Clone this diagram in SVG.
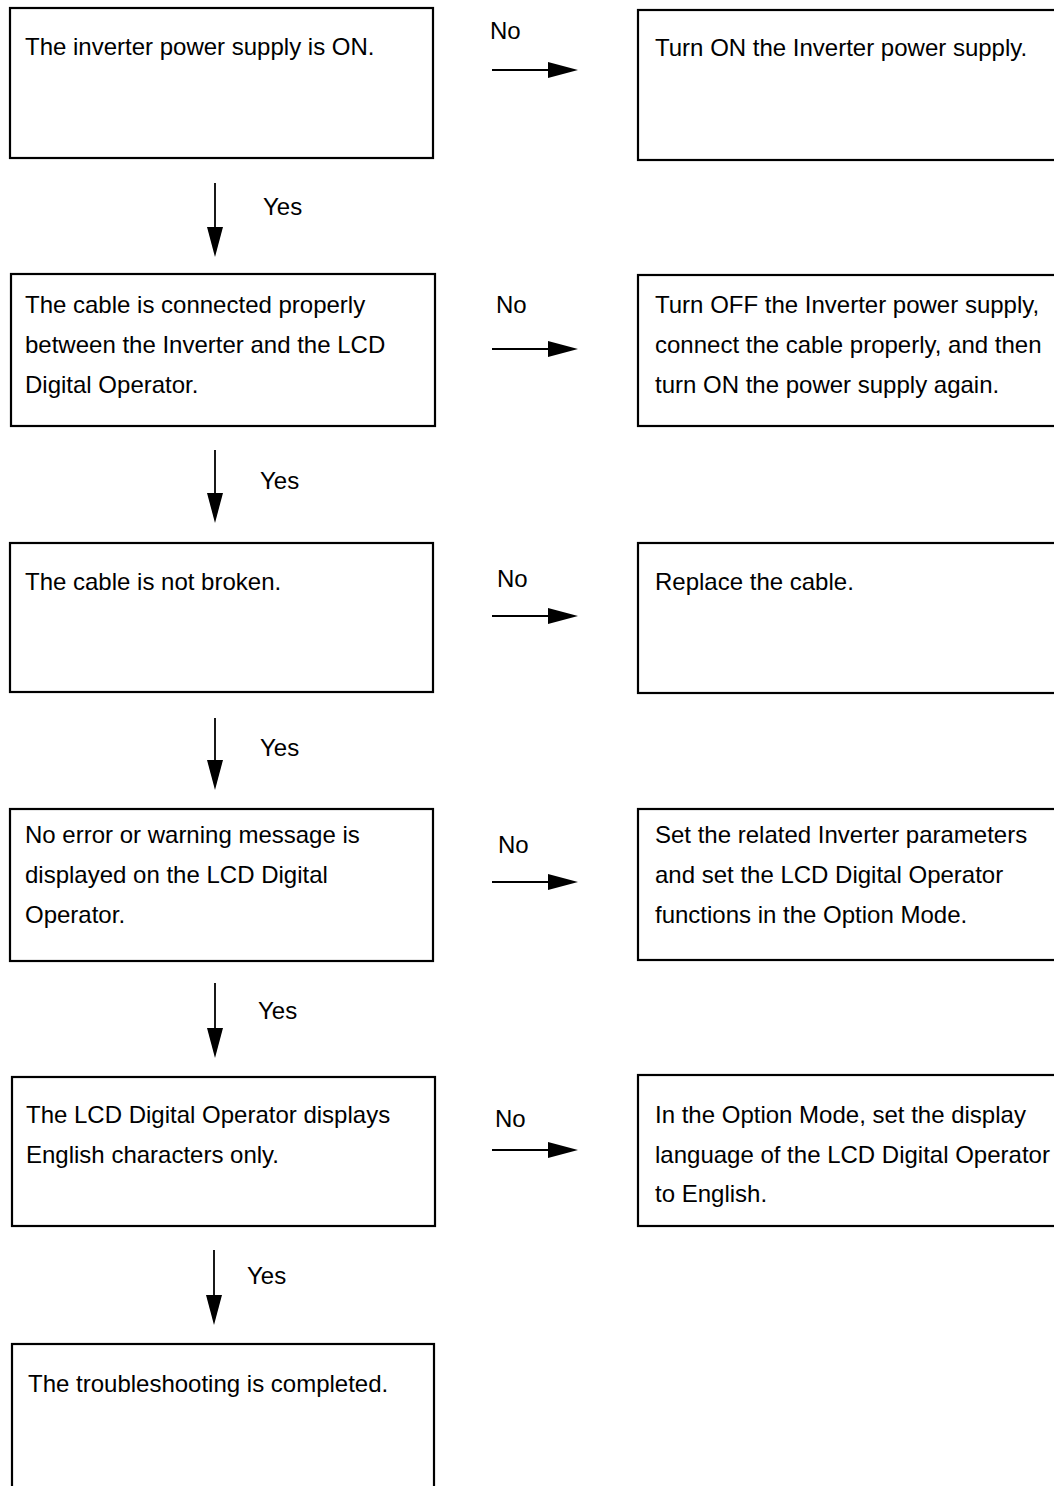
<svg xmlns="http://www.w3.org/2000/svg" width="1054" height="1486" viewBox="0 0 1054 1486">
<style>
.box{fill:#fff;stroke:#000;stroke-width:2.2}
.t{font-family:"Liberation Sans",Arial,sans-serif;font-size:24px;fill:#000}
.c{stroke:#000;stroke-width:1.8;fill:none}
.h{fill:#000;stroke:none}
</style>
<rect width="1054" height="1486" fill="#fff"/>
<g id="n1"><rect class="box" x="10" y="8" width="423" height="150"/><text class="t" x="25" y="55">The inverter power supply is ON.</text></g>
<g id="r1"><rect class="box" x="638" y="10" width="430" height="150"/><text class="t" x="655" y="56">Turn ON the Inverter power supply.</text></g>
<g id="n2"><rect class="box" x="11" y="274" width="424" height="152"/><text class="t" x="25" y="313">The cable is connected properly</text><text class="t" x="25" y="353">between the Inverter and the LCD</text><text class="t" x="25" y="393">Digital Operator.</text></g>
<g id="r2"><rect class="box" x="638" y="275" width="430" height="151"/><text class="t" x="655" y="313">Turn OFF the Inverter power supply,</text><text class="t" x="655" y="353">connect the cable properly, and then</text><text class="t" x="655" y="393">turn ON the power supply again.</text></g>
<g id="n3"><rect class="box" x="10" y="543" width="423" height="149"/><text class="t" x="25" y="590">The cable is not broken.</text></g>
<g id="r3"><rect class="box" x="638" y="543" width="430" height="150"/><text class="t" x="655" y="590">Replace the cable.</text></g>
<g id="n4"><rect class="box" x="10" y="809" width="423" height="152"/><text class="t" x="25" y="843">No error or warning message is</text><text class="t" x="25" y="883">displayed on the LCD Digital</text><text class="t" x="25" y="923">Operator.</text></g>
<g id="r4"><rect class="box" x="638" y="809" width="430" height="151"/><text class="t" x="655" y="843">Set the related Inverter parameters</text><text class="t" x="655" y="883">and set the LCD Digital Operator</text><text class="t" x="655" y="923">functions in the Option Mode.</text></g>
<g id="n5"><rect class="box" x="12" y="1077" width="423" height="149"/><text class="t" x="26" y="1123">The LCD Digital Operator displays</text><text class="t" x="26" y="1163">English characters only.</text></g>
<g id="r5"><rect class="box" x="638" y="1075" width="430" height="151"/><text class="t" x="655" y="1123">In the Option Mode, set the display</text><text class="t" x="655" y="1163">language of the LCD Digital Operator</text><text class="t" x="655" y="1202">to English.</text></g>
<g id="n6"><rect class="box" x="12" y="1344" width="422" height="160"/><text class="t" x="28" y="1392">The troubleshooting is completed.</text></g>
<g id="connectors">
<line class="c" x1="215" y1="183" x2="215" y2="230"/><polygon class="h" points="207,227 223,227 215,257"/>
<line class="c" x1="215" y1="450" x2="215" y2="496"/><polygon class="h" points="207,493 223,493 215,523"/>
<line class="c" x1="215" y1="718" x2="215" y2="763"/><polygon class="h" points="207,760 223,760 215,790"/>
<line class="c" x1="215" y1="983" x2="215" y2="1031"/><polygon class="h" points="207,1028 223,1028 215,1058"/>
<line class="c" x1="214" y1="1250" x2="214" y2="1298"/><polygon class="h" points="206,1295 222,1295 214,1325"/>
<line class="c" x1="492" y1="70" x2="551" y2="70"/><polygon class="h" points="548,62 548,78 578,70"/>
<line class="c" x1="492" y1="349" x2="551" y2="349"/><polygon class="h" points="548,341 548,357 578,349"/>
<line class="c" x1="492" y1="616" x2="551" y2="616"/><polygon class="h" points="548,608 548,624 578,616"/>
<line class="c" x1="492" y1="882" x2="551" y2="882"/><polygon class="h" points="548,874 548,890 578,882"/>
<line class="c" x1="492" y1="1150" x2="551" y2="1150"/><polygon class="h" points="548,1142 548,1158 578,1150"/>
<text class="t" x="263" y="215">Yes</text>
<text class="t" x="260" y="489">Yes</text>
<text class="t" x="260" y="756">Yes</text>
<text class="t" x="258" y="1019">Yes</text>
<text class="t" x="247" y="1284">Yes</text>
<text class="t" x="490" y="39">No</text>
<text class="t" x="496" y="313">No</text>
<text class="t" x="497" y="587">No</text>
<text class="t" x="498" y="853">No</text>
<text class="t" x="495" y="1127">No</text>
</g>
</svg>
